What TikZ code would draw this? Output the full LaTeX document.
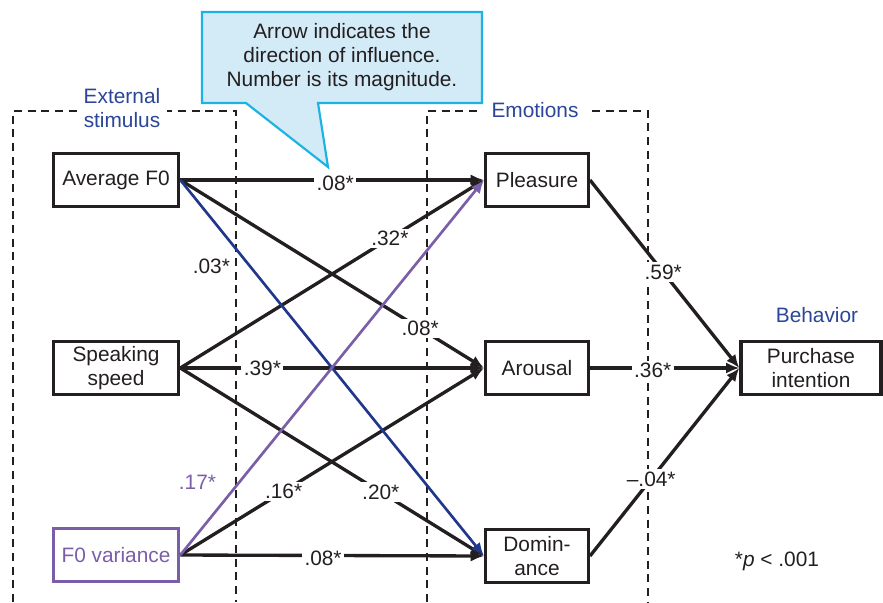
\documentclass[tikz,border=0pt]{standalone}
\usepackage{fontspec}
\setmainfont{Liberation Sans}
\usetikzlibrary{arrows.meta}
\definecolor{headblue}{RGB}{43,70,152}
\definecolor{pathblue}{RGB}{33,55,140}
\definecolor{varpurple}{RGB}{122,94,168}
\definecolor{notefill}{RGB}{211,234,247}
\definecolor{noteline}{RGB}{28,178,228}
\definecolor{ink}{RGB}{35,31,32}

\begin{document}
\begin{tikzpicture}[x=0.03cm, y=-0.03cm,
  font=\fontsize{17.8}{20.5}\selectfont,
  box/.style={draw=ink, line width=0.1cm, minimum width=3.76cm, minimum height=1.6cm, inner sep=2pt, align=center, text=ink},
  emo/.style={box, minimum width=3.08cm},
  group/.style={draw=ink, line width=0.055cm, dash pattern=on 0.24cm off 0.17cm},
  head/.style={fill=white, text=headblue, align=center, inner ysep=1pt, inner xsep=0.2cm},
  link/.style={draw=ink, line width=0.1cm, -{Latex[length=0.4cm,width=0.34cm]}},
  wt/.style={fill=white, text=ink, inner sep=2pt}]
\useasboundingbox (0,0) rectangle (883,602);

\draw[group] (13,602) -- (13,111) -- (236,111) -- (236,602);
\draw[group] (427,602) -- (427,111) -- (648,111) -- (648,602);

\node[head] (ext) at (122,108) {External\\stimulus};
\node[head, inner xsep=0.3cm] (emot) at (535,110) {Emotions};
\node[text=headblue] (behav) at (817,315) {Behavior};

\draw[fill=notefill, draw=noteline, line width=0.065cm] (202,12) -- (482,12) -- (482,103) -- (318,103) -- (328,167) -- (246,103) -- (202,103) -- cycle;
\node[align=center, text=ink] (note) at (342,57) {Arrow indicates the\\direction of influence.\\Number is its magnitude.};

\node[box] (avg) at (116,180) {Average F0};
\node[box] (spk) at (116,368) {Speaking\\speed};
\node[box, draw=varpurple, text=varpurple] (var) at (116,555) {F0 variance};

\node[emo] (ple) at (537,180) {Pleasure};
\node[emo] (aro) at (537,368) {Arousal};
\node[emo] (dom) at (537,556) {Domin-\\ance};

\node[box, minimum width=4.2cm] (buy) at (811,368) {Purchase\\intention};

\draw[link] (avg.east) -- node[wt, pos=0.51, yshift=-3pt] {.08*} (ple.west);
\draw[link] (avg.east) -- node[wt, pos=0.79] {.08*} (aro.west);
\draw[link] (spk.east) -- node[wt, pos=0.69] {.32*} (ple.west);
\draw[link] (spk.east) -- node[wt, pos=0.27] {.39*} (aro.west);
\draw[link] (spk.east) -- node[wt, pos=0.66] {.20*} (dom.west);
\draw[link] (var.east) -- node[wt, pos=0.34] {.16*} (aro.west);
\draw[link] (var.east) -- node[wt, pos=0.47, yshift=-2pt] {.08*} (dom.west);

\draw[link, draw=pathblue, line width=0.08cm] (avg.east) -- node[pos=0.23, left=0.45cm, text=ink] {.03*} (dom.west);
\draw[link, draw=varpurple, line width=0.08cm] (var.east) -- node[pos=0.195, left=0.55cm, text=varpurple] {.17*} (ple.west);

\draw[link] (ple.east) -- node[wt, pos=0.49] {.59*} (buy.west);
\draw[link] (aro.east) -- node[wt, pos=0.42, yshift=-2pt] {.36*} (buy.west);
\draw[link] (dom.east) -- node[wt, pos=0.41] {\textendash.04*} (buy.west);

\node[text=ink] (sig) at (777,561) {*\textit{p} < .001};

\end{tikzpicture}
\end{document}
